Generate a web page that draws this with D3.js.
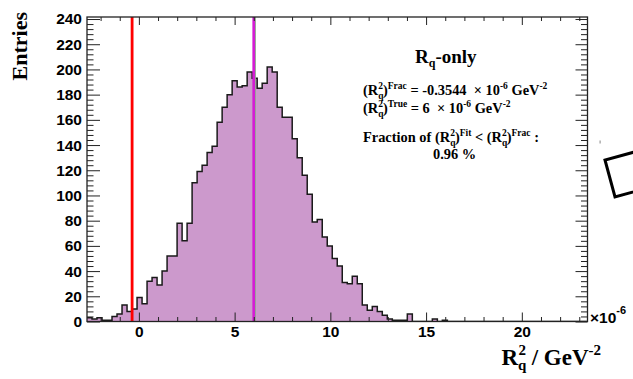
<!DOCTYPE html>
<html>
<head>
<meta charset="utf-8">
<script src="https://cdn.jsdelivr.net/npm/d3@7"></script>
<style>
  body { margin: 0; background: #fff; }
  svg { display: block; }
  text { white-space: pre; }
</style>
</head>
<body>
<script>
// histogram of fitted Rq^2 (x 10^-6 GeV^-2), 100 bins over the axis range
let xLo = -2.71, xHi = 23.43;
let counts = [3, 2, 3, 1, 1, 4, 6, 13, 8, 10,
    19, 14, 32, 35, 29, 40, 52, 52, 78, 64,
    78, 110, 119, 124, 134, 139, 158, 170, 180, 191,
    186, 187, 198, 193, 185, 189, 202, 198, 170, 162,
    162, 145, 130, 116, 101, 79, 81, 67, 60, 50,
    44, 31, 30, 36, 30, 13, 9, 12, 8, 5,
    2, 1, 1, 1, 6, 0, 0, 0, 0, 2,
    0, 1, 0, 0, 0, 0, 0, 0, 0, 0,
    0, 0, 0, 0, 0, 0, 0, 0, 0, 0,
    0, 0, 0, 0, 0, 0, 0, 0, 0, 0];
let fracValue = -0.3544;   // red line
let trueValue = 6;         // magenta line
let fitMean = 6.07;        // thin green line
let xMajor = [0, 5, 10, 15, 20];
let xMinor = [-2, -1, 1, 2, 3, 4, 6, 7, 8, 9, 11, 12, 13, 14, 16, 17, 18, 19, 21, 22, 23];
let yMajor = [0, 20, 40, 60, 80, 100, 120, 140, 160, 180, 200, 220, 240];
let yMinor = d3.range(0, 241, 4).filter(v => v % 20 !== 0);

let W = 633, H = 379;
let frame = {left: 87, right: 587.5, top: 17, bottom: 321.5};

let x = d3.scaleLinear().domain([xLo, xHi]).range([frame.left, frame.right]);
let y = d3.scaleLinear().domain([0, 241.6]).range([frame.bottom, frame.top]);

let svg = d3.select("body").append("svg")
    .attr("width", W)
    .attr("height", H);

svg.append("defs").append("clipPath")
    .attr("id", "clip")
    .append("rect")
    .attr("x", frame.left)
    .attr("y", frame.top)
    .attr("width", frame.right - frame.left)
    .attr("height", frame.bottom - frame.top);

// step outline points from the bins
let bw = (xHi - xLo) / counts.length;
let pts = [];
counts.forEach(function(c, i) {
    pts.push([xLo + i * bw, c]);
    pts.push([xLo + (i + 1) * bw, c]);
});

let area = d3.area()
    .x(d => x(d[0]))
    .y0(y(0))
    .y1(d => y(d[1]));
let line = d3.line()
    .x(d => x(d[0]))
    .y(d => y(d[1]));

let plot = svg.append("g").attr("clip-path", "url(#clip)");
plot.append("path").datum(pts)
    .attr("d", area)
    .attr("fill", "#cc99cc");
plot.append("path").datum(pts)
    .attr("d", line)
    .attr("fill", "none")
    .attr("stroke", "#1a1a1a")
    .attr("stroke-width", 1.5);

// vertical markers
plot.append("line")
    .attr("x1", x(fitMean)).attr("x2", x(fitMean))
    .attr("y1", frame.bottom).attr("y2", frame.top)
    .attr("stroke", "#86c486").attr("stroke-width", 1.6);
plot.append("line")
    .attr("x1", x(trueValue)).attr("x2", x(trueValue))
    .attr("y1", frame.bottom).attr("y2", frame.top)
    .attr("stroke", "#d41ed4").attr("stroke-width", 2.8);
plot.append("line")
    .attr("x1", x(fracValue)).attr("x2", x(fracValue))
    .attr("y1", frame.bottom).attr("y2", frame.top)
    .attr("stroke", "#ff0000").attr("stroke-width", 2.8);

// axes (ROOT style: ticks inside the frame, on all four sides)
function styleAxis(g) {
    g.select(".domain").remove();
    g.selectAll(".tick line").attr("stroke", "#222").attr("stroke-width", 1);
    g.selectAll(".tick text")
        .attr("fill", "#000")
        .style("font-family", "'Liberation Sans', Arial, sans-serif")
        .style("font-weight", "bold")
        .style("font-size", "15.5px");
}

svg.append("g")
    .attr("transform", "translate(0," + frame.bottom + ")")
    .call(d3.axisBottom(x).tickValues(xMajor).tickSize(-9).tickPadding(4))
    .call(styleAxis);
svg.append("g")
    .attr("transform", "translate(0," + frame.bottom + ")")
    .call(d3.axisBottom(x).tickValues(xMinor).tickSize(-4.5).tickFormat(""))
    .call(styleAxis);
svg.append("g")
    .attr("transform", "translate(0," + frame.top + ")")
    .call(d3.axisTop(x).tickValues(xMajor).tickSize(-8).tickFormat(""))
    .call(styleAxis);
svg.append("g")
    .attr("transform", "translate(0," + frame.top + ")")
    .call(d3.axisTop(x).tickValues(xMinor).tickSize(-4).tickFormat(""))
    .call(styleAxis);

svg.append("g")
    .attr("transform", "translate(" + frame.left + ",0)")
    .call(d3.axisLeft(y).tickValues(yMajor).tickSize(-13).tickPadding(5))
    .call(styleAxis);
svg.append("g")
    .attr("transform", "translate(" + frame.left + ",0)")
    .call(d3.axisLeft(y).tickValues(yMinor).tickSize(-6.5).tickFormat(""))
    .call(styleAxis);
svg.append("g")
    .attr("transform", "translate(" + frame.right + ",0)")
    .call(d3.axisRight(y).tickValues(yMajor).tickSize(-12).tickFormat(""))
    .call(styleAxis);
svg.append("g")
    .attr("transform", "translate(" + frame.right + ",0)")
    .call(d3.axisRight(y).tickValues(yMinor).tickSize(-6.5).tickFormat(""))
    .call(styleAxis);

svg.append("rect")
    .attr("x", frame.left).attr("y", frame.top)
    .attr("width", frame.right - frame.left)
    .attr("height", frame.bottom - frame.top)
    .attr("fill", "none")
    .attr("stroke", "#222")
    .attr("stroke-width", 1.3);

// text with sub/superscripts: segs = [text, size, offset, dx]
function rich(parent, px, py, segs, family, anchor) {
    let t = parent.append("text")
        .attr("x", px).attr("y", py)
        .attr("text-anchor", anchor || "start")
        .style("font-family", family)
        .style("font-weight", "bold")
        .attr("fill", "#000");
    let cur = 0;
    segs.forEach(function(s) {
        let ts = t.append("tspan")
            .text(s[0])
            .style("font-size", s[1] + "px")
            .attr("dy", s[2] - cur);
        if (s[3]) ts.attr("dx", s[3]);
        cur = s[2];
    });
    return t;
}

let serif = "'Liberation Serif', 'Times New Roman', serif";
let sans = "'Liberation Sans', Arial, sans-serif";

// x-axis exponent
rich(svg, 590, 322.5, [["\u00d710", 15.5, 0], ["-6", 11, -9]], sans);

// axis titles
rich(svg, 601, 365, [["R", 23, 0], ["q", 15, 5], ["2", 15, -10, -8], [" / GeV", 23, 0], ["-2", 15, -10]], serif, "end");
rich(svg, 0, 0, [["Entries", 22, 0]], serif, "end")
    .attr("transform", "translate(27,12) rotate(-90)");

// info box
let fs = 14.4;
let sub = fs * 0.66;
let rq = function(sup) {
    return [["(R", fs, 0], ["q", sub, 3.5], ["2", sub, -6.5, -sub * 0.55], [")", fs, 0], [sup, sub, -6.5]];
};
rich(svg, 415, 63, [["R", 19, 0], ["q", 12, 4], ["-only", 19, 0]], serif);
rich(svg, 363, 95, rq("Frac").concat([[" = -0.3544  \u00d7 10", fs, 0], ["-6", sub, -6.5], [" GeV", fs, 0], ["-2", sub, -6.5]]), serif);
rich(svg, 363, 113, rq("True").concat([[" = 6  \u00d7 10", fs, 0], ["-6", sub, -6.5], [" GeV", fs, 0], ["-2", sub, -6.5]]), serif);
rich(svg, 363, 142, [["Fraction of ", fs, 0]].concat(rq("Fit"), [[" < ", fs, 0]], rq("Frac"), [[" :", fs, 0]]), serif);
rich(svg, 433, 159, [["0.96 %", fs, 0]], serif);

// stray marks at the right edge of the canvas
svg.append("rect")
    .attr("x", 599.5).attr("y", 140.5).attr("width", 1.2).attr("height", 3)
    .attr("fill", "#999");
svg.append("path")
    .attr("d", "M605,160 L615,197 L651.5,187 L641.5,150 Z")
    .attr("fill", "none")
    .attr("stroke", "#000")
    .attr("stroke-width", 3);
</script>
</body>
</html>
